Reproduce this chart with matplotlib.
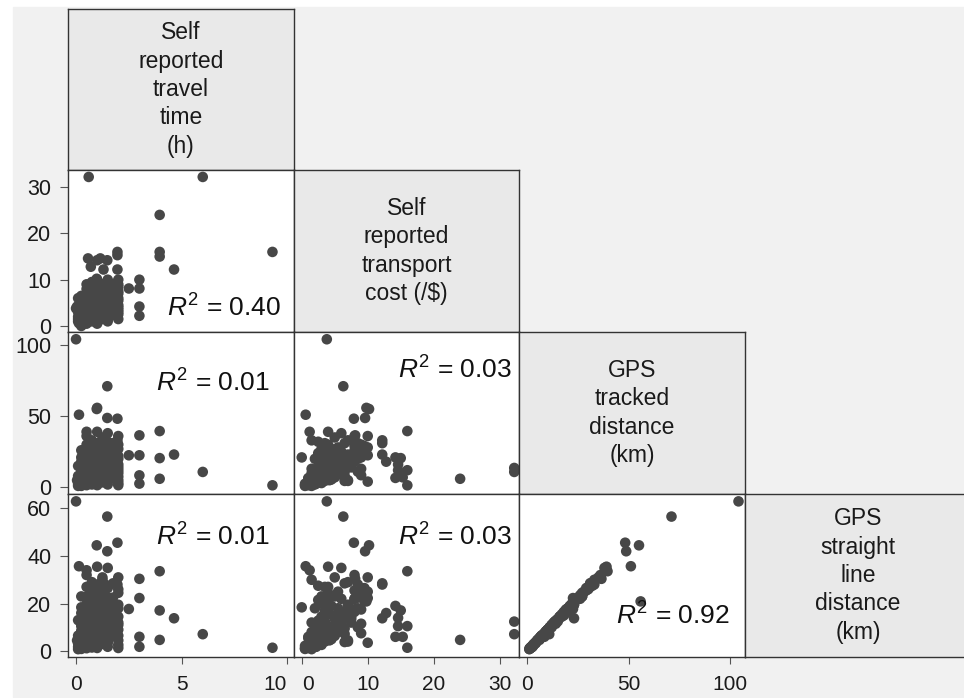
import numpy as np
import matplotlib.pyplot as plt
from matplotlib.patches import Rectangle

plt.rcParams['font.family'] = ['Liberation Sans', 'DejaVu Sans']
plt.rcParams['mathtext.fontset'] = 'custom'
plt.rcParams['mathtext.rm'] = 'Liberation Sans'
plt.rcParams['mathtext.it'] = 'Liberation Sans:italic'

# Data: one entry per respondent (travel time, cost, tracked distance, straight line distance)
time_h = [0.0, 1.48, 0.6, 6.0, 3.96, 3.96, 3.96, 9.3, 4.64, 0.14,
          0.98, 1.48, 1.96, 1.0, 3.0, 3.0, 3.0, 3.0, 2.5, 0.05,
          0.57, 1.15, 0.7, 1.3, 1.96, 1.96, 1.96, 0.25, 0.5, 1.48,
          1.0,
          0.1, 0.1, 0.25, 0.25, 0.25, 0.25, 0.25, 0.25, 0.5, 0.5,
          0.5, 0.5, 0.5, 0.5, 0.5, 0.5, 0.5, 0.75, 0.75, 0.75,
          0.75, 0.75, 0.75, 0.75, 1.0, 1.0, 1.0, 1.0, 1.0, 1.0,
          1.0, 1.0, 1.25, 1.25, 1.25, 1.25, 1.25, 1.5, 1.5, 1.5,
          1.5, 1.5, 1.5, 1.5, 1.75, 1.75, 1.75, 2.0, 2.0, 2.0,
          2.0, 2.0, 2.0, 0.1, 0.25, 0.5, 0.5, 0.75, 0.75, 1.0,
          1.0, 1.25, 1.25, 1.5, 1.5, 1.75, 2.0, 2.0, 0.25, 0.5,
          0.75, 1.0, 1.25, 1.5, 1.75, 2.0, 0.1, 0.5, 1.0, 1.5,
          0.25, 0.25, 0.25, 0.5, 0.5, 0.5, 0.5, 0.5, 0.75, 0.75,
          0.75, 0.75, 0.75, 0.75, 1.0, 1.0, 1.0, 1.0, 1.0, 1.25,
          1.25, 1.25, 1.25, 1.25, 1.5, 1.5, 1.5, 1.5, 1.5, 1.75,
          1.75, 1.75, 2.0, 2.0, 2.0, 2.0, 0.1, 0.1, 0.5, 1.0,
          0.25, 1.5]
cost = [3.8, 6.3, 32.2, 32.2, 24.0, 16.0, 15.0, 16.0, 12.2, 0.6,
        10.2, 9.6, 7.9, 9.8, 10.0, 8.1, 4.2, 2.2, 8.1, 4.2,
        14.6, 14.6, 12.8, 12.2, 12.2, 16.0, 15.3, 0.0, 1.2, 14.2,
        14.2,
        1.0, 2.0, 0.5, 1.5, 3.0, 2.0, 4.0, 1.0, 2.5, 3.5,
        5.0, 2.0, 6.0, 4.0, 8.0, 1.0, 3.0, 2.0, 4.5, 6.0,
        3.0, 5.5, 7.0, 1.5, 3.0, 5.0, 7.0, 2.5, 8.5, 4.0,
        6.5, 1.0, 4.0, 6.0, 3.5, 9.0, 5.0, 2.0, 5.5, 7.5,
        4.5, 9.5, 6.0, 3.0, 5.0, 8.0, 3.5, 3.0, 6.0, 8.5,
        4.0, 10.0, 5.5, 3.0, 2.5, 4.5, 1.5, 3.5, 8.5, 2.0,
        5.5, 2.0, 7.0, 1.0, 8.0, 2.5, 1.5, 7.0, 5.0, 7.0,
        9.5, 10.0, 1.5, 10.0, 6.5, 2.5, 6.0, 9.0, 3.5, 4.0,
        2.0, 3.5, 1.5, 2.0, 5.5, 3.0, 7.0, 4.5, 1.0, 2.5,
        4.0, 6.5, 8.0, 3.5, 2.0, 4.5, 6.0, 9.0, 3.0, 2.5,
        5.0, 7.5, 4.0, 8.0, 3.5, 6.5, 5.0, 8.5, 2.5, 4.0,
        7.0, 9.0, 4.5, 7.5, 3.5, 9.0, 4.0, 1.5, 0.5, 0.5,
        6.5, 1.5]
gps_dist = [104.0, 71.0, 13.6, 10.8, 6.0, 39.5, 20.5, 1.4, 23.0, 51.0,
            55.0, 48.7, 48.2, 55.8, 22.5, 36.5, 8.4, 2.6, 22.5, 5.0,
            12.0, 16.0, 18.0, 31.0, 33.0, 12.0, 7.0, 21.0, 39.0, 21.0,
            6.6,
            2.0, 5.0, 1.0, 3.0, 8.0, 12.0, 18.0, 6.0, 4.0, 10.0,
            15.0, 20.0, 25.0, 30.0, 36.0, 2.5, 7.0, 3.0, 9.0, 14.0,
            22.0, 28.0, 33.0, 5.0, 4.0, 11.0, 17.0, 24.0, 31.0, 39.0,
            8.0, 1.5, 6.0, 13.0, 19.0, 26.0, 35.0, 2.0, 9.0, 15.0,
            21.0, 29.0, 38.0, 12.0, 7.0, 18.0, 25.0, 3.0, 10.0, 20.0,
            27.0, 36.0, 16.0, 3.5, 9.5, 5.5, 13.0, 16.0, 11.0, 7.0,
            20.0, 10.0, 4.5, 6.5, 24.0, 14.0, 1.5, 5.0, 26.0, 19.0,
            23.0, 28.0, 33.0, 4.0, 31.0, 12.0, 15.0, 8.5, 14.0, 17.0,
            4.0, 14.0, 10.0, 6.0, 12.0, 17.0, 23.0, 27.0, 2.0, 7.5,
            12.0, 19.0, 26.0, 31.0, 3.0, 9.5, 15.0, 21.0, 27.0, 3.5,
            8.5, 16.0, 23.0, 29.0, 4.5, 11.0, 18.0, 26.0, 32.0, 10.0,
            22.0, 13.0, 7.5, 14.0, 22.0, 30.0, 8.0, 1.0, 1.5, 2.5,
            4.5, 8.0]
gps_line = [63.0, 56.6, 12.4, 7.1, 4.7, 33.6, 17.1, 1.4, 13.8, 35.7,
            44.5, 42.0, 45.6, 20.9, 22.3, 30.4, 6.0, 1.8, 17.7, 4.5,
            10.5, 14.0, 16.0, 28.5, 28.0, 10.5, 6.0, 18.4, 34.0, 19.0,
            6.0,
            1.8, 4.5, 0.9, 2.7, 7.0, 10.5, 16.0, 5.5, 3.6, 9.0,
            13.5, 18.0, 22.0, 27.0, 32.0, 2.2, 6.3, 2.8, 8.0, 12.5,
            20.0, 25.0, 29.0, 4.6, 3.5, 10.0, 15.0, 21.5, 28.0, 35.5,
            7.2, 1.3, 5.4, 11.8, 17.0, 23.5, 31.0, 1.8, 8.2, 13.5,
            19.0, 26.5, 35.0, 11.0, 6.4, 16.5, 22.5, 2.6, 9.0, 18.0,
            24.5, 31.0, 14.5, 3.2, 8.5, 5.0, 12.0, 14.5, 10.0, 6.5,
            18.0, 9.0, 4.0, 6.0, 22.0, 12.8, 1.3, 4.5, 23.0, 17.5,
            21.0, 25.0, 30.0, 3.5, 28.5, 11.0, 13.0, 7.5, 12.5, 15.5,
            3.2, 11.5, 8.0, 5.0, 10.0, 14.5, 19.5, 23.0, 1.5, 6.0,
            10.5, 16.0, 22.0, 27.0, 2.5, 8.5, 12.5, 17.5, 23.0, 3.0,
            7.0, 14.5, 19.5, 25.5, 4.0, 9.5, 15.0, 22.5, 27.5, 8.5,
            19.0, 11.5, 6.5, 12.0, 19.5, 26.0, 6.5, 0.8, 1.2, 2.2,
            3.8, 7.0]

var_labels = ['Self\nreported\ntravel\ntime\n(h)',
              'Self\nreported\ntransport\ncost (/$)',
              'GPS\ntracked\ndistance\n(km)',
              'GPS\nstraight\nline\ndistance\n(km)']
r2_text = {(1, 0): '0.40', (2, 0): '0.01', (3, 0): '0.01',
           (2, 1): '0.03', (3, 1): '0.03', (3, 2): '0.92'}
tick_vals = [[0, 5, 10], [0, 10, 20, 30], [0, 50, 100], [0, 20, 40, 60]]

columns = [time_h, cost, gps_dist, gps_line]

# axis ranges (as x and as y)
xlims = [(-0.38, 10.32), (-1.17, 32.92), (-4.09, 107.2)]
ylims = [None, (-1.3, 33.7), (-4.7, 109.1), (-2.5, 66.1)]

# layout in pixels
W, H = 964, 698
col_edges = [68, 294, 519, 745, 971]
row_edges = [9, 170, 332, 494, 657]
r2_pos = {(1, 0): (0.942, 0.093), (2, 0): (0.894, 0.63), (3, 0): (0.894, 0.685),
          (2, 1): (0.969, 0.71), (3, 1): (0.969, 0.685), (3, 2): (0.934, 0.198)}

dot_col = '#474747'
edge_col = '#333333'

fig = plt.figure(figsize=(W / 100, H / 100), dpi=100, facecolor='white')
fig.patches.append(Rectangle((13 / W, 1 - 697 / H), (W - 13) / W, (697 - 7) / H,
                             transform=fig.transFigure, color='#f1f1f1', zorder=-1))


def cell(i, j):
    x0, x1 = col_edges[j], col_edges[j + 1]
    y0, y1 = row_edges[i], row_edges[i + 1]
    return fig.add_axes([x0 / W, 1 - y1 / H, (x1 - x0) / W, (y1 - y0) / H])


for i in range(4):
    for j in range(i + 1):
        ax = cell(i, j)
        for sp in ax.spines.values():
            sp.set_color(edge_col)
            sp.set_linewidth(1.0)
        if i == j:
            ax.set_facecolor('#e9e9e9')
            ax.set_xticks([])
            ax.set_yticks([])
            ax.text(0.5, 0.5, var_labels[i], ha='center', va='center',
                    fontsize=16.5, linespacing=1.3, color='#1a1a1a',
                    transform=ax.transAxes)
            continue
        ax.set_facecolor('white')
        ax.scatter(columns[j], columns[i], s=58, color=dot_col, edgecolors='none')
        ax.set_xlim(*xlims[j])
        ax.set_ylim(*ylims[i])
        ax.text(r2_pos[(i, j)][0], r2_pos[(i, j)][1], r'$R^{2}$ = ' + r2_text[(i, j)],
                ha='right', va='baseline', fontsize=19, color='#111111',
                transform=ax.transAxes)
        if j == 0:
            ax.set_yticks(tick_vals[i])
            ax.tick_params(axis='y', length=6, width=0.8, color='#555555',
                           pad=6, labelsize=15.5, labelcolor='#1a1a1a')
        else:
            ax.set_yticks([])
        if i == 3:
            ax.set_xticks(tick_vals[j])
            ax.tick_params(axis='x', length=5, width=0.8, color='#555555',
                           pad=8, labelsize=15, labelcolor='#1a1a1a')
            labs = ax.get_xticklabels()
            if j == 0:
                labs[-1].set_ha('right')
            if j == 1:
                labs[0].set_ha('left')
        else:
            ax.set_xticks([])

fig.savefig('out.png', dpi=100)
